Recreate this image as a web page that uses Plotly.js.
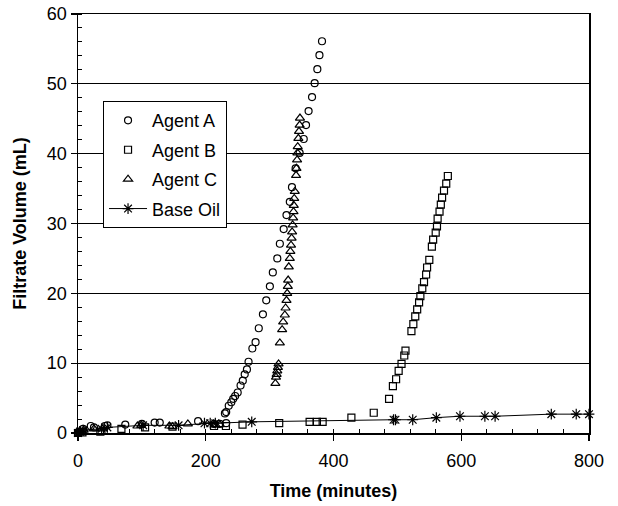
<!DOCTYPE html>
<html>
<head>
<meta charset="utf-8">
<script src="https://cdn.plot.ly/plotly-3.0.1.min.js"></script>
<style>html,body{margin:0;padding:0;background:#fff}#chart{width:618px;height:506px}</style>
</head>
<body>
<div id="chart"></div>
<script>
// Agent A (open circles)
const agentA_x = [0,3,8,20,25,42,46,74,100,120,128,188,213,222,232,
  230,232,236,240,243,246,250,254.5,258,261,264.5,267,273,278,283,289.5,294.7,300.4,305,312,316,322,326.4,331.6,335,340.7,347,353.4,357,361,366.4,370.5,374.7,378,382];
const agentA_y = [0.1,0.2,0.6,1.0,0.8,1.0,1.1,1.2,1.3,1.5,1.5,1.7,1.3,1.3,1.4,
  2.8,3.0,3.9,4.4,4.9,5.3,5.8,6.8,7.5,8.4,9.1,10.2,12.1,13.0,15.0,17.0,19.0,21.0,23.0,25.0,27.1,29.2,31.2,33.1,35.2,37.9,40.1,42.1,44.1,46.1,48.1,50.1,52.1,54.1,56.1];

// Agent B (open squares)
const agentB_x = [0,7,35,68,105,148,213,231.6,257.6,315,362.6,374,383,428,463,487,493,498,502,506.5,510.8,512.7,
  522,525,528,531,534,536,539,541.7,545,546.5,550,554,556,560,562,563,566,568,570,573,576.5,579];
const agentB_y = [0,0.1,0.2,0.6,0.8,0.9,1.0,1.0,1.2,1.4,1.6,1.6,1.6,2.2,2.9,4.9,6.7,7.7,8.9,9.9,11.1,11.8,
  14.6,15.6,16.7,17.7,18.7,19.6,20.7,21.6,22.7,23.7,24.8,26.7,27.7,28.7,29.6,30.7,31.7,32.7,33.7,34.7,35.7,36.8];

// Agent C (open triangles)
const agentC_x = [3,9,25,38,93,99,143,148,172,215,222,309,310,311,312,313,314,316,319.6,321.2,323.8,325,326.4,327.5,328.5,329,
  330,331.6,332.5,333.5,334.4,335.2,336,336.8,337.4,337.8,338.5,339.4,341.4,342,343,343.5,344,345,346,347,347.5];
const agentC_y = [0.2,0.4,0.6,0.6,1.0,1.1,1.0,0.9,1.3,1.2,1.2,7.1,8.0,8.4,8.9,9.4,9.9,12.9,14.8,15.9,16.9,17.9,19.0,20.0,21.0,21.9,
  23.8,25.0,26.0,26.9,27.9,28.8,29.8,30.8,31.7,32.6,33.6,34.6,36.9,37.9,39.1,40.1,41.0,42.2,43.2,44.1,45.1];

// Base Oil (asterisks with line)
const baseOil_x = [0,3,8,37,46,102,157.5,198,207,215,272,494,497,524,561,598,637,653,741,780,800];
const baseOil_y = [0,0.2,0.4,0.6,0.8,1.1,1.1,1.4,1.4,1.4,1.6,1.9,1.9,1.9,2.2,2.4,2.4,2.4,2.7,2.7,2.7];

const seriesNames = ["Agent A","Agent B","Agent C","Base Oil"];
const xTicks = [0,200,400,600,800];
const yTicks = [0,10,20,30,40,50,60];

const FONT = '"Liberation Sans", Arial, sans-serif';

function mk(sym, size){
  return {symbol: sym, size: size, color: '#000', line: {color: '#000', width: 1.2}};
}

const traces = [
  {x: agentA_x, y: agentA_y, name: seriesNames[0], type: 'scatter', mode: 'markers', marker: mk('circle-open', 7), cliponaxis: false, legendgroup: 'a'},
  {x: agentB_x, y: agentB_y, name: seriesNames[1], type: 'scatter', mode: 'markers', marker: mk('square-open', 7), cliponaxis: false, legendgroup: 'b'},
  {x: agentC_x, y: agentC_y, name: seriesNames[2], type: 'scatter', mode: 'markers', marker: mk('triangle-up-open', 8), cliponaxis: false, legendgroup: 'c'},
  {x: baseOil_x, y: baseOil_y, name: seriesNames[3], type: 'scatter', mode: 'lines+markers', line: {color: '#000', width: 1}, marker: mk('asterisk-open', 9), cliponaxis: false, legendgroup: 'd'}
];

const layout = {
  width: 618, height: 506,
  margin: {l: 78, r: 29, t: 14, b: 73},
  paper_bgcolor: '#fff', plot_bgcolor: '#fff',
  font: {family: FONT, size: 18, color: '#000'},
  showlegend: true,
  legend: {
    x: 0.049, y: 0.792, xanchor: 'left', yanchor: 'top',
    bgcolor: '#fff', bordercolor: '#000', borderwidth: 1,
    font: {family: FONT, size: 18, color: '#000'},
    tracegroupgap: 3, traceorder: 'grouped', itemwidth: 38
  },
  xaxis: {
    range: [0, 800], tickvals: xTicks, ticktext: xTicks.map(String),
    showline: true, linecolor: '#000', linewidth: 1.5, mirror: true,
    ticks: 'outside', ticklen: 6, tickcolor: '#000', tickwidth: 1.2,
    ticklabelstandoff: 5,
    showgrid: false, zeroline: false,
    tickfont: {family: FONT, size: 18, color: '#000'},
    minor: {dtick: 40, ticks: 'inside', ticklen: 4, tickcolor: '#000', tickwidth: 1, showgrid: false},
    title: {text: '<b>Time (minutes)</b>', font: {family: FONT, size: 18, color: '#000'}, standoff: 14}
  },
  yaxis: {
    range: [0, 60], tickvals: yTicks, ticktext: yTicks.map(String),
    showline: true, linecolor: '#000', linewidth: 1.5, mirror: true,
    ticks: 'outside', ticklen: 6, tickcolor: '#000', tickwidth: 1.2,
    showgrid: true, gridcolor: '#000', gridwidth: 1, zeroline: false,
    tickfont: {family: FONT, size: 18, color: '#000'},
    minor: {dtick: 2, ticks: 'inside', ticklen: 4, tickcolor: '#000', tickwidth: 1, showgrid: false},
    title: {text: '<b>Filtrate Volume (mL)</b>', font: {family: FONT, size: 18, color: '#000'}, standoff: 15}
  }
};

Plotly.newPlot('chart', traces, layout, {displayModeBar: false, staticPlot: true});
</script>
</body>
</html>
